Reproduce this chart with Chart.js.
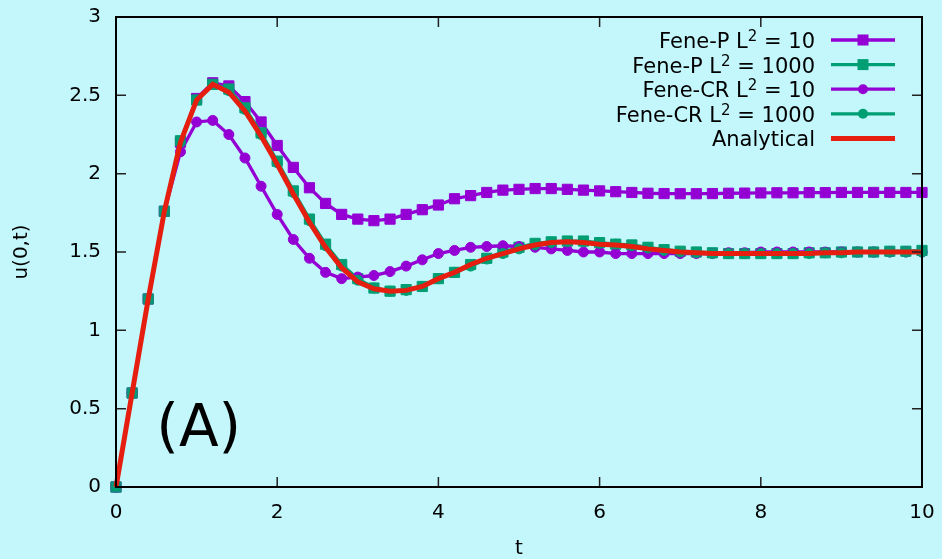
<!DOCTYPE html>
<html>
<head>
<meta charset="utf-8">
<script src="https://cdn.jsdelivr.net/npm/chart.js@4.4.1/dist/chart.umd.min.js"></script>
<style>
  html, body { margin: 0; padding: 0; background: #c3f7fc; }
  canvas { display: block; }
</style>
</head>
<body>
<canvas id="chart" width="942" height="559"></canvas>
<script>
const times = [0, 0.2, 0.4, 0.6, 0.8, 1, 1.2, 1.4, 1.6, 1.8, 2, 2.2, 2.4, 2.6, 2.8, 3, 3.2, 3.4, 3.6, 3.8,
  4, 4.2, 4.4, 4.6, 4.8, 5, 5.2, 5.4, 5.6, 5.8, 6, 6.2, 6.4, 6.6, 6.8, 7, 7.2, 7.4, 7.6, 7.8,
  8, 8.2, 8.4, 8.6, 8.8, 9, 9.2, 9.4, 9.6, 9.8, 10];

const feneP10 = [0, 0.60, 1.20, 1.76, 2.20, 2.48, 2.58, 2.56, 2.46, 2.33, 2.18,
  2.04, 1.91, 1.81, 1.74, 1.71, 1.70, 1.71, 1.74, 1.77, 1.80,
  1.84, 1.86, 1.88, 1.895, 1.90, 1.905, 1.905, 1.90, 1.895, 1.89,
  1.885, 1.88, 1.875, 1.873, 1.872, 1.872, 1.873, 1.875, 1.876, 1.877,
  1.878, 1.878, 1.879, 1.879, 1.88, 1.88, 1.88, 1.88, 1.88, 1.88];

const feneP1000 = [0, 0.60, 1.20, 1.76, 2.21, 2.47, 2.57, 2.54, 2.42, 2.26, 2.08,
  1.89, 1.71, 1.55, 1.42, 1.33, 1.27, 1.25, 1.26, 1.28, 1.33,
  1.37, 1.42, 1.46, 1.50, 1.53, 1.555, 1.565, 1.57, 1.57, 1.56,
  1.55, 1.545, 1.53, 1.515, 1.505, 1.50, 1.495, 1.49, 1.49, 1.49,
  1.49, 1.49, 1.495, 1.495, 1.50, 1.50, 1.50, 1.505, 1.505, 1.51];

const feneCR10 = [0, 0.60, 1.20, 1.76, 2.14, 2.33, 2.34, 2.25, 2.10, 1.92, 1.74,
  1.58, 1.46, 1.37, 1.33, 1.34, 1.35, 1.375, 1.41, 1.45, 1.49,
  1.51, 1.53, 1.535, 1.54, 1.535, 1.53, 1.52, 1.51, 1.50, 1.50,
  1.49, 1.49, 1.49, 1.49, 1.49, 1.49, 1.49, 1.495, 1.495, 1.50,
  1.50, 1.50, 1.50, 1.50, 1.50, 1.50, 1.50, 1.50, 1.50, 1.50];

const feneCR1000 = [0, 0.60, 1.20, 1.76, 2.20, 2.47, 2.57, 2.53, 2.41, 2.25, 2.07,
  1.88, 1.70, 1.54, 1.41, 1.32, 1.27, 1.25, 1.255, 1.28, 1.33,
  1.37, 1.41, 1.455, 1.49, 1.52, 1.545, 1.56, 1.565, 1.565, 1.555,
  1.55, 1.54, 1.525, 1.51, 1.50, 1.495, 1.49, 1.49, 1.49, 1.49,
  1.49, 1.49, 1.49, 1.495, 1.495, 1.50, 1.50, 1.50, 1.50, 1.50];

const analytical = [0, 0.60, 1.20, 1.76, 2.20, 2.47, 2.57, 2.52, 2.40, 2.24, 2.06,
  1.87, 1.69, 1.53, 1.40, 1.31, 1.265, 1.25, 1.255, 1.28, 1.33,
  1.37, 1.42, 1.46, 1.49, 1.52, 1.545, 1.56, 1.565, 1.56, 1.55,
  1.545, 1.535, 1.52, 1.51, 1.50, 1.495, 1.49, 1.49, 1.49, 1.49,
  1.49, 1.49, 1.49, 1.495, 1.495, 1.50, 1.50, 1.50, 1.50, 1.50];

const xTickLabels = ['0', '2', '4', '6', '8', '10'];
const yTickLabels = ['0', '0.5', '1', '1.5', '2', '2.5', '3'];

const PURPLE = '#9400d3';
const GREEN = '#009e73';
const RED = '#e51e10';

const toPoints = (ys) => times.map((t, i) => ({ x: t, y: ys[i] }));

// legend entries: label split so the superscript can be drawn smaller
const legendItems = [
  { pre: 'Fene-P L', sup: '2', post: ' = 10', color: PURPLE, style: 'rect', width: 3.3 },
  { pre: 'Fene-P L', sup: '2', post: ' = 1000', color: GREEN, style: 'rect', width: 3.3 },
  { pre: 'Fene-CR L', sup: '2', post: ' = 10', color: PURPLE, style: 'circle', width: 3.3 },
  { pre: 'Fene-CR L', sup: '2', post: ' = 1000', color: GREEN, style: 'circle', width: 3.3 },
  { pre: 'Analytical', sup: '', post: '', color: RED, style: null, width: 5 },
];

const FONT = "'DejaVu Sans', sans-serif";

const framePlugin = {
  id: 'frame',
  afterDatasetsDraw(chart) {
    const { ctx, chartArea: a, scales: { x, y } } = chart;
    ctx.save();
    // inside ticks on all four sides
    ctx.strokeStyle = '#222';
    ctx.lineWidth = 1.5;
    ctx.beginPath();
    x.ticks.forEach(t => {
      const px = x.getPixelForValue(t.value);
      ctx.moveTo(px, a.bottom); ctx.lineTo(px, a.bottom - 10);
      ctx.moveTo(px, a.top); ctx.lineTo(px, a.top + 10);
    });
    y.ticks.forEach(t => {
      const py = y.getPixelForValue(t.value);
      ctx.moveTo(a.left, py); ctx.lineTo(a.left + 10, py);
      ctx.moveTo(a.right, py); ctx.lineTo(a.right - 10, py);
    });
    ctx.stroke();
    ctx.strokeStyle = '#000';
    ctx.lineWidth = 2;
    ctx.strokeRect(a.left, a.top, a.right - a.left, a.bottom - a.top);

    // panel label
    ctx.fillStyle = '#000';
    ctx.font = '58px ' + FONT;
    ctx.textAlign = 'left';
    ctx.textBaseline = 'alphabetic';
    ctx.fillText('(A)', x.getPixelForValue(0.5), y.getPixelForValue(0.26));

    // key
    const textRight = 815, lineL = 831, lineR = 895, mid = 863;
    legendItems.forEach((it, i) => {
      const rowY = 40 + i * 24.6;
      const base = rowY + 8;
      ctx.font = '21px ' + FONT;
      const wPre = ctx.measureText(it.pre).width;
      const wPost = ctx.measureText(it.post).width;
      ctx.font = '15px ' + FONT;
      const wSup = it.sup ? ctx.measureText(it.sup).width : 0;
      let cx = textRight - (wPre + wSup + wPost);
      ctx.fillStyle = '#000';
      ctx.font = '21px ' + FONT;
      ctx.fillText(it.pre, cx, base);
      cx += wPre;
      if (it.sup) {
        ctx.font = '15px ' + FONT;
        ctx.fillText(it.sup, cx, base - 7);
        cx += wSup;
      }
      ctx.font = '21px ' + FONT;
      ctx.fillText(it.post, cx, base);

      ctx.strokeStyle = it.color;
      ctx.lineWidth = it.width;
      ctx.beginPath();
      ctx.moveTo(lineL, rowY); ctx.lineTo(lineR, rowY);
      ctx.stroke();
      ctx.fillStyle = it.color;
      if (it.style === 'rect') {
        ctx.fillRect(mid - 5.5, rowY - 5.5, 11, 11);
      } else if (it.style === 'circle') {
        ctx.beginPath();
        ctx.arc(mid, rowY, 5, 0, Math.PI * 2);
        ctx.fill();
      }
    });
    ctx.restore();
  }
};

const mkSet = (label, ys, color, style, radius, width, order) => ({
  label,
  data: toPoints(ys),
  borderColor: color,
  backgroundColor: color,
  borderWidth: width,
  pointStyle: style,
  pointRadius: radius,
  pointBorderWidth: 1,
  pointBorderColor: color,
  pointBackgroundColor: color,
  tension: 0,
  clip: false,
  order,
});

new Chart(document.getElementById('chart'), {
  type: 'line',
  data: {
    datasets: [
      mkSet('Fene-P L2 = 10', feneP10, PURPLE, 'rect', 7.2, 3.3, 5),
      mkSet('Fene-P L2 = 1000', feneP1000, GREEN, 'rect', 7.2, 3.3, 4),
      mkSet('Fene-CR L2 = 10', feneCR10, PURPLE, 'circle', 5, 3.3, 3),
      mkSet('Fene-CR L2 = 1000', feneCR1000, GREEN, 'circle', 5, 3.3, 2),
      mkSet('Analytical', analytical, RED, 'circle', 0, 5, 1),
    ]
  },
  options: {
    responsive: false,
    animation: false,
    devicePixelRatio: 1,
    layout: { padding: { left: 0, right: 20, top: 17, bottom: 0 } },
    plugins: { legend: { display: false }, tooltip: { enabled: false } },
    scales: {
      x: {
        type: 'linear',
        min: 0,
        max: 10,
        grid: { display: false, drawTicks: false },
        border: { display: false },
        ticks: {
          stepSize: 2,
          padding: 14,
          color: '#000',
          font: { family: FONT, size: 20 },
          maxRotation: 0,
          callback: (v) => xTickLabels[Math.round(v / 2)],
        },
        title: {
          display: true,
          text: 't',
          color: '#000',
          font: { family: FONT, size: 20 },
          padding: { top: 0, bottom: -2 },
        },
        afterFit: (s) => { s.height = 72; s.paddingLeft = 0; s.paddingRight = 0; },
      },
      y: {
        min: 0,
        max: 3,
        grid: { display: false, drawTicks: false },
        border: { display: false },
        ticks: {
          stepSize: 0.5,
          padding: 15,
          color: '#000',
          font: { family: FONT, size: 20 },
          callback: (v) => yTickLabels[Math.round(v * 2)],
        },
        title: {
          display: true,
          text: 'u(0,t)',
          color: '#000',
          font: { family: FONT, size: 20 },
          padding: { top: 10, bottom: 0 },
        },
        afterFit: (s) => { s.width = 116; s.paddingTop = 0; s.paddingBottom = 0; },
      }
    }
  },
  plugins: [framePlugin]
});
</script>
</body>
</html>
